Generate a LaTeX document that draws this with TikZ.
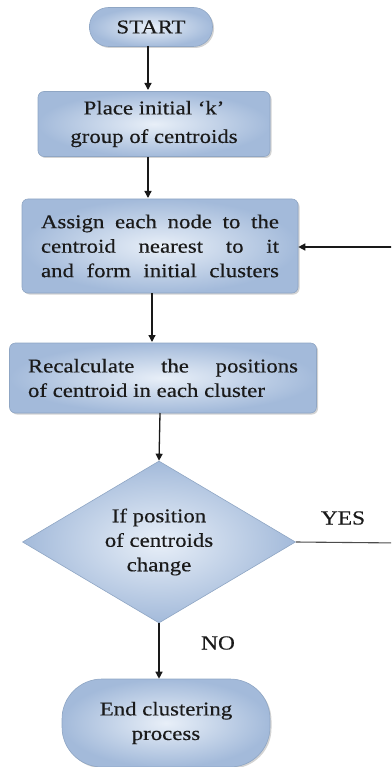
\documentclass[tikz,border=0pt]{standalone}
\usepackage{fontspec}
\setmainfont[FakeStretch=1.17,FakeBold=0.35]{Liberation Serif}
\usetikzlibrary{shapes.geometric,shadows,arrows.meta}
\definecolor{boxedge}{HTML}{8FA6C4}
\definecolor{boxin}{HTML}{E8EFF8}
\definecolor{boxout}{HTML}{A3BADA}
\definecolor{inktext}{HTML}{1A1A1A}
\newcommand{\spreadline}[2]{\makebox[#1][s]{#2}}
\begin{document}
\begin{tikzpicture}[x=1pt,y=-1pt,
  every node/.style={font=\fontsize{19.5}{24.5}\selectfont, text=inktext},
  flowbox/.style={draw=boxedge, line width=0.6pt, rounded corners=6pt,
    inner color=boxin, outer color=boxout,
    drop shadow={shadow xshift=1.5pt, shadow yshift=-1.5pt, opacity=0.35},
    align=center, inner sep=0pt},
  terminal/.style={flowbox, rounded corners=19pt},
  decision/.style={draw=boxedge, line width=0.6pt, diamond, aspect=1.68,
    inner color=boxin, outer color=boxout, align=center, inner sep=0pt},
  link/.style={draw=black!90, line width=1.3pt, -{Triangle[length=7pt,width=7pt]}},
  plain/.style={draw=black!70, line width=1.1pt},
  tag/.style={font=\fontsize{20}{24}\selectfont, text=inktext}]
\useasboundingbox (0,0) rectangle (391,767);
\clip (0,0) rectangle (391,767);

% process steps
\node[terminal, minimum width=123pt, minimum height=39pt] (start) at (151,27) {START};
\node[flowbox, minimum width=232pt, minimum height=65pt] (place) at (154,124)
  {Place initial `k'\\[4pt] group of centroids};
\node[flowbox, minimum width=276pt, minimum height=94pt] (assign) at (160,246)
  {\spreadline{238pt}{Assign each node to the}\\
   \spreadline{238pt}{centroid nearest to it}\\
   \spreadline{238pt}{and form initial clusters}};
\node[flowbox, minimum width=307pt, minimum height=70pt] (recalc) at (163,378)
  {\spreadline{270pt}{Recalculate the positions}\\
   \makebox[270pt][l]{of centroid in each cluster}};
\node[decision, minimum width=273pt, minimum height=162pt] (test) at (159,542)
  {If position\\ of centroids\\ change};
\node[terminal, rounded corners=40pt, minimum width=208pt, minimum height=88pt] (finish) at (166,723)
  {End clustering\\ process};

% connectors
\draw[link] (148,46) -- (148,90);
\draw[link] (148,157) -- (148,198);
\draw[link] (152,293) -- (152,342);
\draw[link] (160,413) -- (test.north);
\draw[link] (test.south) -- (finish.north -| test.south);

% loop back when the centroids moved
\coordinate (loopout) at (400,543);
\coordinate (loopin) at (400,247);
\draw[plain] (test.east) -- (loopout);
\draw[link] (loopout) -- (loopin) -- (assign.east |- loopin);

\node[tag] (yes) at (343,518) {YES};
\node[tag] (no) at (218,643) {NO};
\end{tikzpicture}
\end{document}
